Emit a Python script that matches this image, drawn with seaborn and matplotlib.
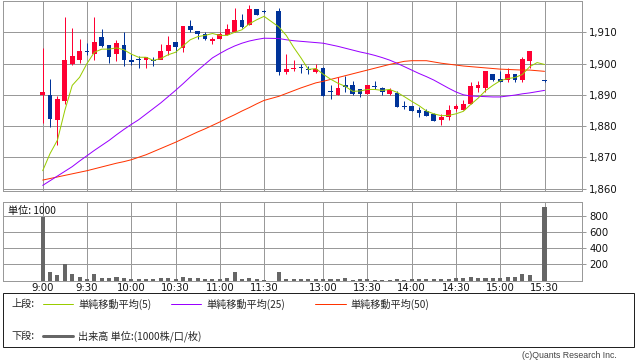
import numpy as np
import pandas as pd
import matplotlib
matplotlib.use("Agg")
import matplotlib.pyplot as plt
import seaborn as sns
from matplotlib.lines import Line2D
from matplotlib.patches import Rectangle
from matplotlib.ticker import FuncFormatter

# 5-minute bars: morning 9:00-11:30, one empty lunch slot, afternoon 12:30-15:30
morning = [f"{9 + m // 60}:{m % 60:02d}" for m in range(0, 155, 5)]
afternoon = [f"{12 + m // 60}:{m % 60:02d}" for m in range(30, 215, 5)]
times = morning + [""] + afternoon

opens = [1890, 1890, 1882, 1888, 1900, 1901, 1904, 1903, 1908.5, 1906,
         1903, 1906, 1901, 1901.5, 1901, 1901.2, 1901, 1904, 1907, 1905,
         1912, 1910.4, 1909.3, 1907.2, 1907.7, 1909.2, 1910.2, 1914, 1912.3, 1917.5,
         1916.8, None, 1916.8, 1897.3, 1898.2, 1898.8, 1898.1, 1897.3, 1898.7, 1891.1,
         1890, 1893, 1893, 1891.7, 1890.4, 1892.6, 1892.2, 1890.1, 1890.6, 1886.3,
         1886.3, 1885.2, 1884.9, 1883.8, 1881.8, 1882.9, 1885.6, 1885, 1886.9, 1892.2,
         1892.3, 1896.5, 1894.9, 1894.8, 1896.5, 1894.8, 1900.9, None, 1894.5]
highs = [1905, 1895, 1889.5, 1914.8, 1911.4, 1907.9, 1906.7, 1914.8, 1911, 1906,
         1907.5, 1910, 1903.2, 1902.4, 1902.2, 1902.2, 1906.1, 1908.8, 1906.7, 1912,
         1914, 1910.4, 1910, 1908.6, 1910, 1912.6, 1917.7, 1915.9, 1918.6, 1917.5,
         1917, None, 1917.9, 1903, 1901.1, 1900, 1899.3, 1899.7, 1899, 1893,
         1895.8, 1895.9, 1894.4, 1892, 1893, 1894.4, 1892.5, 1892.2, 1891.2, 1888,
         1886.3, 1886, 1885.6, 1884.3, 1883.9, 1886.6, 1886.9, 1888.3, 1894, 1894.3,
         1897.5, 1896.5, 1897.5, 1898.6, 1896.5, 1902.2, 1904, None, 1894.6]
lows = [1880.9, 1879.6, 1874, 1887, 1899.5, 1900.2, 1902.7, 1901, 1905.3, 1900.2,
        1900.8, 1899.3, 1899.5, 1898.6, 1898.6, 1899.3, 1901.3, 1902.7, 1903.6, 1903.8,
        1910, 1907.7, 1907.5, 1906.2, 1907.7, 1909.2, 1910.2, 1911.3, 1912.3, 1915.6,
        1916.2, None, 1896.3, 1896.6, 1897.6, 1897, 1896.6, 1897, 1889.6, 1888.5,
        1890, 1891, 1890, 1889.4, 1890.4, 1891.7, 1889.8, 1889.8, 1886.1, 1885.4,
        1884.7, 1882.9, 1883.1, 1881.7, 1880.3, 1881.8, 1884.9, 1885, 1886.9, 1890.9,
        1890.8, 1894.3, 1894, 1894, 1894, 1894, 1898.6, None, 1894.2]
closes = [1891, 1882.2, 1888.6, 1901.1, 1902.4, 1904, 1903.8, 1906.9, 1905.7, 1902.2,
          1906.5, 1901, 1900.6, 1901, 1902.2, 1900.9, 1904, 1906, 1905.4, 1912,
          1910.7, 1909.4, 1907.7, 1907.7, 1909.3, 1911, 1913.9, 1911.8, 1917.5, 1915.6,
          1916.6, None, 1897.3, 1898.4, 1898.7, 1898.6, 1897.9, 1898.4, 1889.6, 1890.9,
          1892.2, 1892.6, 1890.4, 1890.4, 1893, 1892.4, 1890.9, 1891.6, 1886.1, 1886.1,
          1884.7, 1884.2, 1883.1, 1881.7, 1882.9, 1885.2, 1886.3, 1887, 1892.8, 1893,
          1897.5, 1894.8, 1894.2, 1896.5, 1894.6, 1901.3, 1904, None, 1894.3]

ma5 = [1865.7, 1871.2, 1875.5, 1885, 1893, 1895.6, 1900, 1903.6, 1904.6, 1904.6,
       1905, 1904.4, 1903, 1902, 1902, 1901, 1901.6, 1902.8, 1903.6, 1905.6,
       1907.6, 1908.6, 1909, 1909.6, 1909, 1909, 1910, 1910.8, 1912.7, 1914,
       1915.1, None, 1911.7, 1909, 1905.2, 1901.8, 1898.1, 1898.4, 1896.6, 1895,
       1893.7, 1892.7, 1891.1, 1891.2, 1891.7, 1891.7, 1891.4, 1891.7, 1890.8, 1889.4,
       1887.9, 1886.5, 1884.8, 1883.9, 1883.3, 1883.4, 1883.9, 1884.7, 1886.9, 1888.9,
       1891.3, 1893, 1894.5, 1895.2, 1895.5, 1896.5, 1899, 1900.3, 1899.7]
ma25 = [1861, 1862.5, 1864, 1865.5, 1867, 1868.8, 1870.5, 1872.2, 1873.8, 1875.4,
        1877.2, 1878.9, 1880.5, 1882, 1883.8, 1885.6, 1887.4, 1889.4, 1891.4, 1893.5,
        1895.7, 1897.8, 1899.8, 1901.8, 1903.2, 1904.5, 1905.6, 1906.5, 1907.2, 1907.7,
        1908.1, None, 1908, 1907.6, 1907.3, 1907.1, 1906.9, 1906.7, 1906.5, 1906,
        1905.5, 1904.9, 1904.3, 1903.7, 1903.2, 1902.6, 1901.9, 1901.1, 1900.1, 1899,
        1897.9, 1896.8, 1895.8, 1894.7, 1893.4, 1892.1, 1890.9, 1890, 1889.6, 1889.5,
        1889.4, 1889.3, 1889.3, 1889.6, 1889.9, 1890.3, 1890.6, 1891, 1891.4]
ma50 = [1862.7, 1863.2, 1863.7, 1864.2, 1864.7, 1865.2, 1865.7, 1866.3, 1866.9, 1867.5,
        1868.1, 1868.6, 1869.2, 1870, 1870.8, 1871.8, 1872.8, 1873.8, 1874.8, 1875.9,
        1877, 1878.1, 1879.1, 1880.2, 1881.3, 1882.5, 1883.6, 1884.8, 1885.9, 1887.1,
        1888.2, None, 1889.5, 1890.4, 1891.3, 1892.2, 1893, 1893.8, 1894.3, 1894.9,
        1895.5, 1896.1, 1896.7, 1897.3, 1897.9, 1898.5, 1899.1, 1899.7, 1900.2, 1900.7,
        1900.9, 1900.9, 1900.9, 1900.5, 1900.1, 1899.8, 1899.5, 1899.2, 1899, 1898.8,
        1898.6, 1898.4, 1898.2, 1898.1, 1898, 1897.9, 1897.9, 1897.7, 1897.5]

volume = [780, 101, 68, 204, 76, 43, 19, 80, 31, 31,
          43, 31, 19, 19, 19, 19, 31, 31, 19, 47,
          31, 31, 19, 19, 19, 31, 105, 19, 31, 19,
          6, None, 105, 19, 19, 19, 19, 19, 20, 15,
          15, 30, 8, 15, 15, 8, 8, 8, 20, 8,
          15, 15, 15, 15, 15, 15, 30, 30, 45, 25,
          30, 30, 30, 45, 45, 80, 68, None, 904]

tick_times = ["9:00", "9:30", "10:00", "10:30", "11:00", "11:30",
              "13:00", "13:30", "14:00", "14:30", "15:00", "15:30"]

df = pd.DataFrame({"time": times, "open": opens, "high": highs, "low": lows,
                   "close": closes, "ma5": ma5, "ma25": ma25, "ma50": ma50,
                   "volume": volume}).astype({c: float for c in
                   ["open", "high", "low", "close", "ma5", "ma25", "ma50", "volume"]})
df["slot"] = np.arange(len(df))

RED = "#ff0033"
BLUE = "#003399"
GRID = "#999999"
W, H = 638, 362
PX = 0.72  # one pixel in points

sns.set_style("white")
plt.rcParams["font.family"] = ["DejaVu Sans", "Noto Sans CJK JP"]
JP = ["Noto Sans CJK JP", "DejaVu Sans"]

fig = plt.figure(figsize=(W / 100, H / 100), dpi=100)


def box(x0, y0, x1, y1):
    return [x0 / W, 1 - y1 / H, (x1 - x0) / W, (y1 - y0) / H]


ax = fig.add_axes(box(3, 0.7, 582.3, 190.7))
axv = fig.add_axes(box(3, 201.5, 582.3, 280.5))

tick_slots = df.loc[df["time"].isin(tick_times), "slot"].tolist()

# price panel: candles
c = df.dropna(subset=["open"])
up = c["close"] >= c["open"]
colors = np.where(up, RED, BLUE)
ax.vlines(c["slot"], c["low"], c["high"], colors=colors, lw=1.0 * PX, zorder=3)
body_lo = np.minimum(c["open"], c["close"])
body_h = np.maximum((c["close"] - c["open"]).abs(), 0.35)
ax.bar(c["slot"], body_h, bottom=body_lo, width=0.64, color=colors, linewidth=0, zorder=4)

# moving averages
for col, color in [("ma50", "#ff3300"), ("ma25", "#9900ff"), ("ma5", "#99cc00")]:
    d = df.dropna(subset=[col])
    sns.lineplot(data=d, x="slot", y=col, color=color, lw=1.0 * PX,
                 estimator=None, ax=ax, zorder=5)

ax.set_xlim(-5.38, 73.12)
ax.set_ylim(1859.3, 1920.1)
ax.set_yticks(range(1860, 1911, 10))
ax.yaxis.set_major_formatter(FuncFormatter(lambda v, p: f"{v:,.0f}"))
ax.set_xticks(tick_slots)
ax.set_xticklabels([])

# volume panel
v = df.dropna(subset=["volume"])
sns.barplot(data=v, x="slot", y="volume", native_scale=True, color="#666666",
            saturation=1, width=0.55, errorbar=None, linewidth=0, ax=axv, zorder=3)
axv.set_xlim(-5.38, 73.12)
axv.set_ylim(0, 975)
axv.set_yticks([200, 400, 600, 800])
axv.set_xticks(tick_slots)
axv.set_xticklabels(tick_times)
axv.text(0.008, 0.88, "単位: 1000", transform=axv.transAxes, fontsize=7.3,
         family=JP, va="center", ha="left", color="#111111")

for a in (ax, axv):
    a.set_xlabel("")
    a.set_ylabel("")
    a.set_axisbelow(True)
    a.grid(True, color=GRID, lw=1.0 * PX)
    a.yaxis.tick_right()
    a.tick_params(axis="y", direction="out", length=3, width=PX, color=GRID,
                  labelsize=7.3, pad=2, labelcolor="#111111")
    a.tick_params(axis="x", length=0, labelsize=7.3, pad=2, labelcolor="#111111")
    for s in a.spines.values():
        s.set_color(GRID)
        s.set_linewidth(PX)
    if a.get_legend():
        a.get_legend().remove()

# legend box below the chart
fig.add_artist(Rectangle((3 / W, 1 - 347 / H), 631 / W, 54 / H, transform=fig.transFigure,
                         fill=False, edgecolor="#222222", lw=PX))


def fx(px):
    return px / W


def fy(py):
    return 1 - py / H


row1, row2 = 304, 336
fig.text(fx(11), fy(row1), "上段:", family=JP, fontsize=7.3, va="center")
entries = [(43, 73, 78, "#99cc00", "単純移動平均(5)"),
           (171, 201, 206, "#9900ff", "単純移動平均(25)"),
           (315, 346, 350, "#ff3300", "単純移動平均(50)")]
for x0, x1, xt, color, label in entries:
    fig.add_artist(Line2D([fx(x0), fx(x1)], [fy(row1), fy(row1)], color=color,
                          lw=1.0 * PX, transform=fig.transFigure))
    fig.text(fx(xt), fy(row1), label, family=JP, fontsize=7.3, va="center")

fig.text(fx(11), fy(row2), "下段:", family=JP, fontsize=7.3, va="center")
fig.add_artist(Line2D([fx(43), fx(73)], [fy(row2), fy(row2)], color="#666666",
                      lw=3 * PX, transform=fig.transFigure))
fig.text(fx(78), fy(row2), "出来高 単位:(1000株/口/枚)", family=JP, fontsize=7.3, va="center")

fig.text(fx(617), fy(356), "(c)Quants Research Inc.", family="Liberation Sans",
         fontsize=6.3, ha="right", va="center", color="#444444")

fig.savefig("out.png", dpi=100)
